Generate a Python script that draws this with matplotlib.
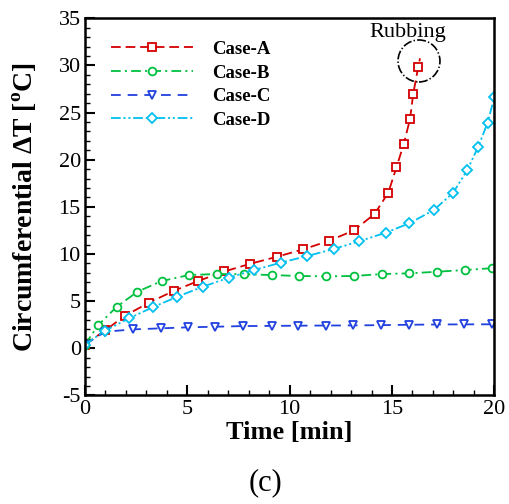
import matplotlib
matplotlib.use("Agg")
import matplotlib.pyplot as plt
from matplotlib.patches import Ellipse
from matplotlib.ticker import MultipleLocator

plt.rcParams["font.family"] = ["Liberation Serif", "DejaVu Serif"]
plt.rcParams["mathtext.fontset"] = "custom"
plt.rcParams["mathtext.rm"] = "Liberation Serif:bold"
plt.rcParams["mathtext.bf"] = "Liberation Serif:bold"
plt.rcParams["axes.unicode_minus"] = False
plt.rcParams["lines.scale_dashes"] = False

# time [min] / circumferential temperature difference [degC]
case_a_t = [0, 0.98, 1.95, 3.13, 4.35, 5.54, 6.81, 8.05, 9.36, 10.67, 11.92,
            13.14, 14.15, 14.82, 15.22, 15.58, 15.88, 16.04, 16.28, 16.37]
case_a_v = [0.4, 1.9, 3.45, 4.85, 6.1, 7.15, 8.15, 8.95, 9.7, 10.5, 11.4,
            12.5, 14.25, 16.5, 19.2, 21.7, 24.3, 27.0, 29.8, 30.75]

case_b_t = [0, 0.65, 1.55, 2.56, 3.75, 5.08, 6.43, 7.78, 9.12, 10.47, 11.8,
            13.14, 14.52, 15.85, 17.18, 18.56, 19.9]
case_b_v = [0.4, 2.47, 4.41, 6.0, 7.14, 7.77, 7.88, 7.86, 7.77, 7.67, 7.63,
            7.67, 7.88, 7.95, 8.12, 8.3, 8.5]

case_c_t = [0, 0.98, 2.36, 3.71, 5.05, 6.35, 7.73, 9.12, 10.42, 11.77, 13.1,
            14.46, 15.84, 17.18, 18.52, 19.87]
case_c_v = [0.4, 1.76, 2.01, 2.12, 2.23, 2.29, 2.36, 2.38, 2.4, 2.42, 2.43,
            2.46, 2.5, 2.53, 2.54, 2.55]

case_d_t = [0, 0.98, 2.15, 3.3, 4.51, 5.75, 7.03, 8.26, 9.56, 10.86, 12.15,
            13.4, 14.69, 15.85, 17.05, 17.99, 18.68, 19.22, 19.67, 20.0]
case_d_v = [0.4, 1.87, 3.18, 4.35, 5.47, 6.53, 7.49, 8.3, 9.08, 9.79, 10.53,
            11.35, 12.26, 13.26, 14.67, 16.5, 18.9, 21.4, 23.9, 26.6]

rub_t, rub_v = 16.32, 30.47

fig = plt.figure(figsize=(5.10, 5.04), dpi=100)
ax = fig.add_axes([0.1667, 0.2153, 0.8025, 0.7485])

series = [
    (case_a_t, case_a_v, "Case-A", "#d40000", "s", (7, 3.5)),
    (case_b_t, case_b_v, "Case-B", "#00c040", "o", (7, 3, 1.5, 3)),
    (case_c_t, case_c_v, "Case-C", "#2040e0", "v", (7, 5)),
    (case_d_t, case_d_v, "Case-D", "#00c0f0", "D", (7, 2, 1.5, 2, 1.5, 2)),
]
for t, v, name, col, mk, dash in series:
    # the last Case-A sample is the end of the curve, no symbol there
    every = list(range(len(t) - 1)) if name == "Case-A" else None
    ms = 4.8 if mk == "D" else 5.6
    ax.plot(t, v, color=col, lw=1.3, dashes=dash, marker=mk, ms=ms,
            mfc="white", mec=col, mew=1.3, markevery=every, label=name)

# rubbing point
ax.add_patch(Ellipse((rub_t, rub_v), 2.05, 4.45, fill=False, ec="black",
                     lw=1.2, ls="-."))
ax.text(15.78, 33.5, "Rubbing", fontsize=16, ha="center", va="center")

ax.set_xlim(0, 20)
ax.set_ylim(-5, 35)
ax.xaxis.set_major_locator(MultipleLocator(5))
ax.xaxis.set_minor_locator(MultipleLocator(1))
ax.yaxis.set_major_locator(MultipleLocator(5))
ax.yaxis.set_minor_locator(MultipleLocator(1))
ax.tick_params(which="both", direction="in", top=False, right=False,
               labelsize=16, pad=3)
ax.tick_params(which="major", length=7, width=1.5)
ax.tick_params(which="minor", length=3.5, width=1.0)
for sp in ax.spines.values():
    sp.set_linewidth(1.8)

ax.set_xlabel("Time [min]", fontsize=19, fontweight="bold", labelpad=2)
ax.set_ylabel(r"Circumferential ΔT [$^{\mathrm{o}}$C]", fontsize=20,
              fontweight="bold", labelpad=14)

leg = ax.legend(loc="upper left", bbox_to_anchor=(0.022, 0.985), frameon=False,
                prop={"weight": "bold", "size": 13.5}, handlelength=4.4,
                handletextpad=1.0, labelspacing=0.35, numpoints=1)

fig.text(0.52, 0.042, "(c)", fontsize=22, ha="center", va="center")

fig.savefig("out.png", dpi=100)
